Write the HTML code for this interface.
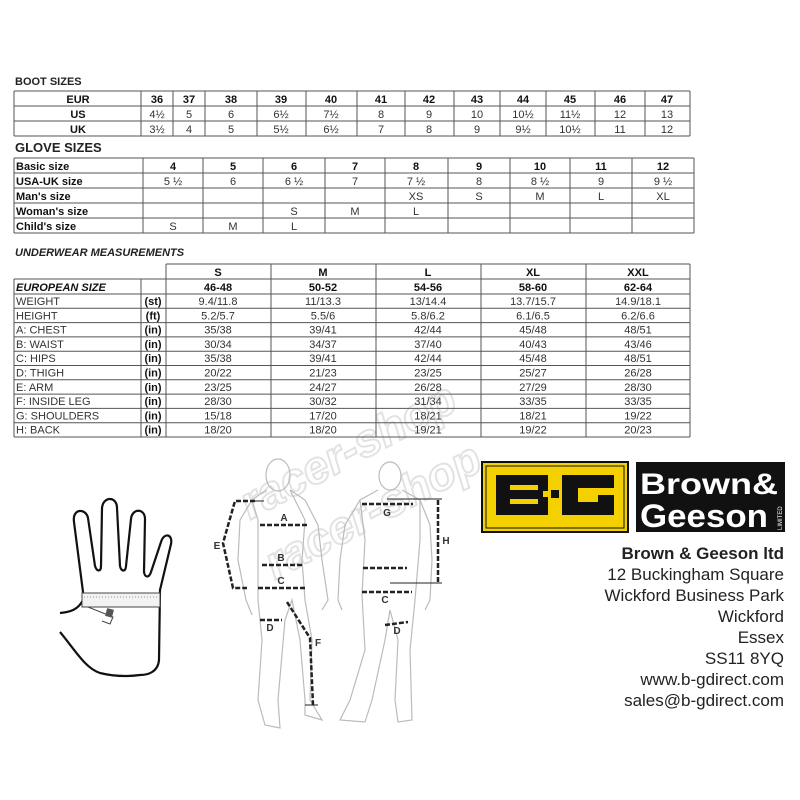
<!DOCTYPE html>
<html><head><meta charset="utf-8"><style>
html,body{margin:0;padding:0;background:#fff;width:800px;height:800px;overflow:hidden}
svg{display:block}
text{font-family:"Liberation Sans",sans-serif}
.t{font-size:11px;fill:#333;text-anchor:middle}
.b{font-weight:bold;fill:#111}
.l{text-anchor:start}
.g line{stroke:#555;stroke-width:1}
.d{stroke:#222;stroke-width:2.5;stroke-dasharray:5 2;fill:none}
.f{stroke:#bbb;stroke-width:1.2;fill:none}
.addr{font-size:17px;fill:#222;text-anchor:end}
</style></head><body>
<svg width="800" height="800" viewBox="0 0 800 800" xmlns="http://www.w3.org/2000/svg">
<!-- BOOT SIZES -->
<text x="15" y="85" font-size="11" font-weight="bold" fill="#222">BOOT SIZES</text>
<g class="g">
<line x1="14" y1="91" x2="690" y2="91"/><line x1="14" y1="106" x2="690" y2="106"/><line x1="14" y1="121" x2="690" y2="121"/><line x1="14" y1="136" x2="690" y2="136"/>
<line x1="14" y1="91" x2="14" y2="136"/><line x1="141" y1="91" x2="141" y2="136"/><line x1="173" y1="91" x2="173" y2="136"/><line x1="205" y1="91" x2="205" y2="136"/><line x1="257" y1="91" x2="257" y2="136"/><line x1="306" y1="91" x2="306" y2="136"/><line x1="357" y1="91" x2="357" y2="136"/><line x1="405" y1="91" x2="405" y2="136"/><line x1="454" y1="91" x2="454" y2="136"/><line x1="500" y1="91" x2="500" y2="136"/><line x1="546" y1="91" x2="546" y2="136"/><line x1="595" y1="91" x2="595" y2="136"/><line x1="645" y1="91" x2="645" y2="136"/><line x1="690" y1="91" x2="690" y2="136"/>
</g>
<g class="t b"><text x="78" y="103">EUR</text><text x="78" y="118">US</text><text x="78" y="133">UK</text>
<text x="157" y="103">36</text><text x="189" y="103">37</text><text x="231" y="103">38</text><text x="281" y="103">39</text><text x="331" y="103">40</text><text x="381" y="103">41</text><text x="429" y="103">42</text><text x="477" y="103">43</text><text x="523" y="103">44</text><text x="570" y="103">45</text><text x="620" y="103">46</text><text x="667" y="103">47</text></g>
<g class="t"><text x="157" y="118">4½</text><text x="189" y="118">5</text><text x="231" y="118">6</text><text x="281" y="118">6½</text><text x="331" y="118">7½</text><text x="381" y="118">8</text><text x="429" y="118">9</text><text x="477" y="118">10</text><text x="523" y="118">10½</text><text x="570" y="118">11½</text><text x="620" y="118">12</text><text x="667" y="118">13</text>
<text x="157" y="133">3½</text><text x="189" y="133">4</text><text x="231" y="133">5</text><text x="281" y="133">5½</text><text x="331" y="133">6½</text><text x="381" y="133">7</text><text x="429" y="133">8</text><text x="477" y="133">9</text><text x="523" y="133">9½</text><text x="570" y="133">10½</text><text x="620" y="133">11</text><text x="667" y="133">12</text></g>

<!-- GLOVE SIZES -->
<text x="15" y="152" font-size="13" font-weight="bold" fill="#222">GLOVE SIZES</text>
<g class="g">
<line x1="14" y1="158" x2="694" y2="158"/><line x1="14" y1="173" x2="694" y2="173"/><line x1="14" y1="188" x2="694" y2="188"/><line x1="14" y1="203" x2="694" y2="203"/><line x1="14" y1="218" x2="694" y2="218"/><line x1="14" y1="233" x2="694" y2="233"/>
<line x1="14" y1="158" x2="14" y2="233"/><line x1="143" y1="158" x2="143" y2="233"/><line x1="203" y1="158" x2="203" y2="233"/><line x1="263" y1="158" x2="263" y2="233"/><line x1="325" y1="158" x2="325" y2="233"/><line x1="385" y1="158" x2="385" y2="233"/><line x1="448" y1="158" x2="448" y2="233"/><line x1="510" y1="158" x2="510" y2="233"/><line x1="570" y1="158" x2="570" y2="233"/><line x1="632" y1="158" x2="632" y2="233"/><line x1="694" y1="158" x2="694" y2="233"/>
</g>
<g class="t b l"><text x="16" y="170">Basic size</text><text x="16" y="185">USA-UK size</text><text x="16" y="200">Man's size</text><text x="16" y="215">Woman's size</text><text x="16" y="230">Child's size</text></g>
<g class="t b"><text x="173" y="170">4</text><text x="233" y="170">5</text><text x="294" y="170">6</text><text x="355" y="170">7</text><text x="416" y="170">8</text><text x="479" y="170">9</text><text x="540" y="170">10</text><text x="601" y="170">11</text><text x="663" y="170">12</text></g>
<g class="t"><text x="173" y="185">5 ½</text><text x="233" y="185">6</text><text x="294" y="185">6 ½</text><text x="355" y="185">7</text><text x="416" y="185">7 ½</text><text x="479" y="185">8</text><text x="540" y="185">8 ½</text><text x="601" y="185">9</text><text x="663" y="185">9 ½</text>
<text x="416" y="200">XS</text><text x="479" y="200">S</text><text x="540" y="200">M</text><text x="601" y="200">L</text><text x="663" y="200">XL</text>
<text x="294" y="215">S</text><text x="355" y="215">M</text><text x="416" y="215">L</text>
<text x="173" y="230">S</text><text x="233" y="230">M</text><text x="294" y="230">L</text></g>

<!-- UNDERWEAR -->
<text x="15" y="256" font-size="11" font-weight="bold" font-style="italic" fill="#222">UNDERWEAR MEASUREMENTS</text>
<g class="g">
<line x1="166" y1="264" x2="690" y2="264"/>
<line x1="14" y1="279" x2="690" y2="279"/><line x1="14" y1="294" x2="690" y2="294"/><line x1="14" y1="308.3" x2="690" y2="308.3"/><line x1="14" y1="322.6" x2="690" y2="322.6"/><line x1="14" y1="336.9" x2="690" y2="336.9"/><line x1="14" y1="351.2" x2="690" y2="351.2"/><line x1="14" y1="365.5" x2="690" y2="365.5"/><line x1="14" y1="379.8" x2="690" y2="379.8"/><line x1="14" y1="394.1" x2="690" y2="394.1"/><line x1="14" y1="408.4" x2="690" y2="408.4"/><line x1="14" y1="422.7" x2="690" y2="422.7"/><line x1="14" y1="437" x2="690" y2="437"/>
<line x1="14" y1="279" x2="14" y2="437"/><line x1="141" y1="279" x2="141" y2="437"/><line x1="166" y1="264" x2="166" y2="437"/><line x1="271" y1="264" x2="271" y2="437"/><line x1="376" y1="264" x2="376" y2="437"/><line x1="481" y1="264" x2="481" y2="437"/><line x1="586" y1="264" x2="586" y2="437"/><line x1="690" y1="264" x2="690" y2="437"/>
</g>
<g class="t b"><text x="218" y="276">S</text><text x="323" y="276">M</text><text x="428" y="276">L</text><text x="533" y="276">XL</text><text x="638" y="276">XXL</text>
<text x="218" y="291">46-48</text><text x="323" y="291">50-52</text><text x="428" y="291">54-56</text><text x="533" y="291">58-60</text><text x="638" y="291">62-64</text></g>
<text x="16" y="291" class="t b l" font-style="italic">EUROPEAN SIZE</text>
<g class="t l"><text x="16" y="305">WEIGHT</text><text x="16" y="319.3">HEIGHT</text><text x="16" y="333.6">A: CHEST</text><text x="16" y="347.9">B: WAIST</text><text x="16" y="362.2">C: HIPS</text><text x="16" y="376.5">D: THIGH</text><text x="16" y="390.8">E: ARM</text><text x="16" y="405.1">F: INSIDE LEG</text><text x="16" y="419.4">G: SHOULDERS</text><text x="16" y="433.7">H: BACK</text></g>
<g class="t b"><text x="153" y="305">(st)</text><text x="153" y="319.3">(ft)</text><text x="153" y="333.6">(in)</text><text x="153" y="347.9">(in)</text><text x="153" y="362.2">(in)</text><text x="153" y="376.5">(in)</text><text x="153" y="390.8">(in)</text><text x="153" y="405.1">(in)</text><text x="153" y="419.4">(in)</text><text x="153" y="433.7">(in)</text></g>
<g class="t">
<text x="218" y="305">9.4/11.8</text><text x="323" y="305">11/13.3</text><text x="428" y="305">13/14.4</text><text x="533" y="305">13.7/15.7</text><text x="638" y="305">14.9/18.1</text>
<text x="218" y="319.3">5.2/5.7</text><text x="323" y="319.3">5.5/6</text><text x="428" y="319.3">5.8/6.2</text><text x="533" y="319.3">6.1/6.5</text><text x="638" y="319.3">6.2/6.6</text>
<text x="218" y="333.6">35/38</text><text x="323" y="333.6">39/41</text><text x="428" y="333.6">42/44</text><text x="533" y="333.6">45/48</text><text x="638" y="333.6">48/51</text>
<text x="218" y="347.9">30/34</text><text x="323" y="347.9">34/37</text><text x="428" y="347.9">37/40</text><text x="533" y="347.9">40/43</text><text x="638" y="347.9">43/46</text>
<text x="218" y="362.2">35/38</text><text x="323" y="362.2">39/41</text><text x="428" y="362.2">42/44</text><text x="533" y="362.2">45/48</text><text x="638" y="362.2">48/51</text>
<text x="218" y="376.5">20/22</text><text x="323" y="376.5">21/23</text><text x="428" y="376.5">23/25</text><text x="533" y="376.5">25/27</text><text x="638" y="376.5">26/28</text>
<text x="218" y="390.8">23/25</text><text x="323" y="390.8">24/27</text><text x="428" y="390.8">26/28</text><text x="533" y="390.8">27/29</text><text x="638" y="390.8">28/30</text>
<text x="218" y="405.1">28/30</text><text x="323" y="405.1">30/32</text><text x="428" y="405.1">31/34</text><text x="533" y="405.1">33/35</text><text x="638" y="405.1">33/35</text>
<text x="218" y="419.4">15/18</text><text x="323" y="419.4">17/20</text><text x="428" y="419.4">18/21</text><text x="533" y="419.4">18/21</text><text x="638" y="419.4">19/22</text>
<text x="218" y="433.7">18/20</text><text x="323" y="433.7">18/20</text><text x="428" y="433.7">19/21</text><text x="533" y="433.7">19/22</text><text x="638" y="433.7">20/23</text>
</g>

<!-- watermark -->
<g opacity="0.18" fill="none" stroke="#666" stroke-width="2" font-size="46" font-weight="bold" font-style="italic">
<text x="250" y="520" transform="rotate(-28 250 520)" style="font-family:'Liberation Sans',sans-serif">racer-shop</text>
<text x="275" y="580" transform="rotate(-28 275 580)" style="font-family:'Liberation Sans',sans-serif">racer-shop</text>
</g>

<!-- hand -->
<path d="M60,613 C70,612 78,610 83,600 L83,592 L74,522 C72,508 86,508 88,518 L95,566 C97,572 101,572 101,566 L102,508 C103,496 117,496 117,508 L120,566 C121,572 126,572 126,566 L131,519 C132,508 145,508 145,519 L144,572 C145,578 149,578 151,572 L161,542 C164,532 173,534 171,544 L160,590 L159,660 C158,672 148,675 140,675 C125,677 112,676 100,673 C85,668 75,650 60,632" fill="none" stroke="#111" stroke-width="2.2"/>
<rect x="82" y="593" width="78" height="14" fill="#f2f2f2" stroke="#444" stroke-width="1"/>
<line x1="84" y1="597" x2="158" y2="597" stroke="#999" stroke-dasharray="1 2"/>
<path d="M88,607 L113,617 L110,624 L102,621" fill="none" stroke="#444"/>
<rect x="106" y="609" width="7" height="8" fill="#555" transform="rotate(15 110 613)"/>

<!-- figures (faint outlines) -->
<g class="f">
<ellipse cx="278" cy="475" rx="12" ry="16"/>
<path d="M266,490 L252,500 L240,520 L238,560 L246,600 L252,615 M290,490 L305,500 L318,525 L322,560 L328,600 L322,610"/>
<path d="M252,500 L258,520 L258,600 L262,640 L258,700 L265,725 L280,728 L278,700 L285,620 L292,600 L300,640 L305,700 L305,715 L322,720 L310,700 L312,640 L305,600 L302,560 L305,520 L290,490"/>
<ellipse cx="390" cy="476" rx="11" ry="14"/>
<path d="M378,490 L360,500 L345,525 L340,560 L338,600 L342,610 M402,490 L420,500 L430,525 L432,560 L430,600 L425,610"/>
<path d="M360,500 L365,540 L362,595 L365,650 L350,700 L340,720 L365,722 L372,700 L385,640 L390,610 L398,640 L395,700 L398,722 L412,720 L410,650 L415,600 L420,540 L420,500"/>
</g>
<g class="d">
<polyline points="255,501 235,501 223,543 233,588 247,588"/>
<line x1="260" y1="525" x2="307" y2="525"/>
<line x1="262" y1="565" x2="302" y2="565"/>
<line x1="258" y1="588" x2="305" y2="588"/>
<line x1="260" y1="620" x2="282" y2="620"/>
<polyline points="287,602 310,638 313,705"/>
<line x1="362" y1="504" x2="413" y2="504"/>
<line x1="438" y1="500" x2="438" y2="583"/>
<line x1="363" y1="568" x2="407" y2="568"/>
<line x1="362" y1="592" x2="412" y2="592"/>
<line x1="385" y1="625" x2="408" y2="622"/>
</g>
<g stroke="#222" stroke-width="1"><line x1="305" y1="705" x2="318" y2="705"/><line x1="387" y1="499" x2="442" y2="499"/><line x1="390" y1="583" x2="442" y2="583"/><line x1="255" y1="501" x2="264" y2="501"/></g>
<g font-size="10" font-weight="bold" fill="#333" text-anchor="middle">
<text x="217" y="549">E</text><text x="284" y="521">A</text><text x="281" y="561">B</text><text x="281" y="584">C</text><text x="270" y="631">D</text><text x="318" y="646">F</text><text x="387" y="516">G</text><text x="446" y="544">H</text><text x="385" y="603">C</text><text x="397" y="634">D</text>
</g>

<!-- logo -->
<rect x="482" y="462" width="146" height="70" fill="#f4d000" stroke="#111" stroke-width="2"/>
<rect x="486" y="466" width="138" height="62" fill="none" stroke="#111" stroke-width="1"/>
<g fill="#111">
<path d="M496,475 h52 v16 h-5 v6 h5 v18 h-52 z"/>
<rect x="551" y="490" width="8" height="8"/>
<path d="M562,475 h52 v13 h-36 v14 h20 v-7 h16 v20 h-52 z"/>
</g>
<g fill="#f4d000"><rect x="510" y="485" width="28" height="5"/><rect x="510" y="499" width="28" height="5"/></g>
<rect x="636" y="462" width="149" height="70" fill="#111"/>
<text x="640" y="494" font-size="30" font-weight="bold" fill="#fff" textLength="138" lengthAdjust="spacingAndGlyphs">Brown&amp;</text>
<text x="640" y="527" font-size="32" font-weight="bold" fill="#fff" textLength="128" lengthAdjust="spacingAndGlyphs">Geeson</text>
<text x="782" y="530" font-size="6" fill="#fff" transform="rotate(-90 782 530)">LIMITED</text>

<g class="addr">
<text x="784" y="559" font-weight="bold">Brown &amp; Geeson ltd</text>
<text x="784" y="580">12 Buckingham Square</text>
<text x="784" y="601">Wickford Business Park</text>
<text x="784" y="622">Wickford</text>
<text x="784" y="643">Essex</text>
<text x="784" y="664">SS11 8YQ</text>
<text x="784" y="685">www.b-gdirect.com</text>
<text x="784" y="706">sales@b-gdirect.com</text>
</g>
</svg>
</body></html>
